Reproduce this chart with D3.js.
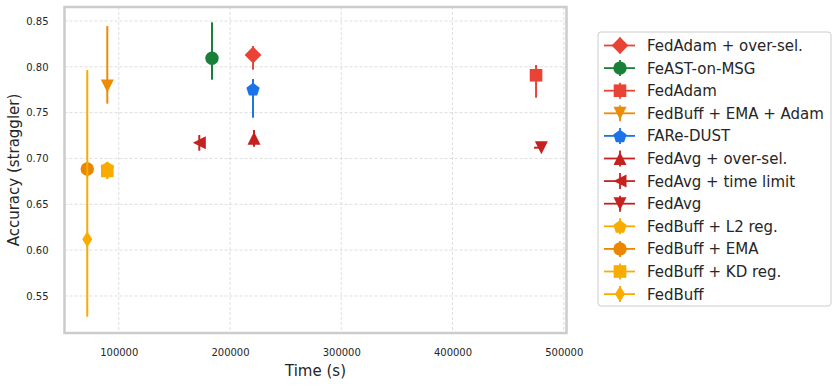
<!DOCTYPE html>
<html>
<head>
<meta charset="utf-8">
<script src="https://cdn.jsdelivr.net/npm/d3@7"></script>
<style>
  body { margin: 0; background: #fff; }
  text { font-family: "DejaVu Sans", sans-serif; fill: #262626; }
</style>
</head>
<body>
<div id="chart-root"></div>
<script>
// series, in plot order (same as legend order)
var names   = ["FedAdam + over-sel.", "FeAST-on-MSG", "FedAdam", "FedBuff + EMA + Adam", "FARe-DUST",
               "FedAvg + over-sel.", "FedAvg + time limit", "FedAvg", "FedBuff + L2 reg.", "FedBuff + EMA",
               "FedBuff + KD reg.", "FedBuff"];
var colors  = ["#ea4335", "#188038", "#ea4335", "#ec8b06", "#1a73e8",
               "#c5221f", "#c5221f", "#c5221f", "#f9ab00", "#ea8600",
               "#f9ab00", "#f9ab00"];
var shapes  = ["D", "o", "s", "v", "p", "^", "<", "v", "p", "o", "s", "d"];
var times   = [220700, 183800, 475100, 89700, 220700, 221600, 172400, 479900, 89700, 71700, 89700, 71700];
var acc     = [0.8129, 0.8093, 0.7908, 0.779, 0.7758, 0.722, 0.7172, 0.7118, 0.690, 0.6886, 0.6864, 0.6119];
var accLow  = [0.7969, 0.786, 0.7663, 0.7598, 0.7445, 0.7129, 0.7085, 0.7100, 0.6776, 0.6800, 0.6776, 0.5274];
var accHigh = [0.8227, 0.8486, 0.802, 0.8445, 0.7867, 0.7311, 0.7256, 0.7136, 0.695, 0.6960, 0.6950, 0.7965];
var timeLow = [null, null, null, null, null, null, null, 473300, null, null, null, null];
var timeHigh= [null, null, null, null, null, null, null, 482000, null, null, null, null];

var xTicks = [100000, 200000, 300000, 400000, 500000];
var yTicks = [0.55, 0.60, 0.65, 0.70, 0.75, 0.80, 0.85];

var W = 837, H = 385;
var box = { left: 64.5, right: 566.5, top: 7, bottom: 333 };

var svg = d3.select("#chart-root").append("svg")
    .attr("width", W).attr("height", H);

var x = d3.scaleLinear().domain([51236, 502472]).range([box.left, box.right]);
var y = d3.scaleLinear().domain([0.5096, 0.8653]).range([box.bottom, box.top]);

// marker path around (0,0)
function marker(s) {
  var p;
  switch (s) {
    case "o": return d3.symbol(d3.symbolCircle, Math.PI * 6.7 * 6.7)();
    case "s": p = [[-6.3,-6.3],[6.3,-6.3],[6.3,6.3],[-6.3,6.3]]; break;
    case "D": p = [[0,-8.4],[8.4,0],[0,8.4],[-8.4,0]]; break;
    case "d": p = [[0,-8],[5,0],[0,8],[-5,0]]; break;
    case "^": p = [[0,-6.5],[6.5,6.5],[-6.5,6.5]]; break;
    case "v": p = [[0,6.5],[6.5,-6.5],[-6.5,-6.5]]; break;
    case "<": p = [[-6.5,0],[6.5,-6.5],[6.5,6.5]]; break;
    case "p":
      p = d3.range(5).map(function (i) {
        var a = -Math.PI / 2 + i * 2 * Math.PI / 5;
        return [7 * Math.cos(a), 7 * Math.sin(a) + 0.8];
      });
      break;
  }
  return "M" + p.join("L") + "Z";
}

// grid
var grid = svg.append("g").attr("stroke", "#d5d5d5").attr("stroke-width", 0.8)
    .attr("stroke-dasharray", "3,2");
grid.selectAll(".gx").data(xTicks).enter().append("line")
    .attr("x1", function (d) { return x(d); }).attr("x2", function (d) { return x(d); })
    .attr("y1", box.top).attr("y2", box.bottom);
grid.selectAll(".gy").data(yTicks).enter().append("line")
    .attr("y1", function (d) { return y(d); }).attr("y2", function (d) { return y(d); })
    .attr("x1", box.left).attr("x2", box.right);

// axes (labels only, seaborn style without tick marks)
var xAxis = svg.append("g")
    .attr("transform", "translate(0," + (box.bottom + 13) + ")")
    .call(d3.axisBottom(x).tickValues(xTicks).tickSize(0).tickPadding(3).tickFormat(d3.format("d")));
var yAxis = svg.append("g")
    .attr("transform", "translate(" + (box.left - 14) + ",0)")
    .call(d3.axisLeft(y).tickValues(yTicks).tickSize(0).tickPadding(2).tickFormat(d3.format(".2f")));
[xAxis, yAxis].forEach(function (a) {
  a.select(".domain").remove();
  a.selectAll("text").style("font-family", "DejaVu Sans").style("font-size", "10px").attr("fill", "#262626");
});

svg.append("text").attr("x", (box.left + box.right) / 2).attr("y", 376)
    .attr("text-anchor", "middle").style("font-size", "15px").text("Time (s)");
svg.append("text").attr("transform", "translate(19," + ((box.top + box.bottom) / 2) + ") rotate(-90)")
    .attr("text-anchor", "middle").style("font-size", "15px").text("Accuracy (straggler)");

// points with error bars
var idx = d3.range(names.length);
var pts = svg.append("g").selectAll("g").data(idx).enter().append("g");
pts.append("line")
    .attr("x1", function (i) { return x(times[i]); }).attr("x2", function (i) { return x(times[i]); })
    .attr("y1", function (i) { return y(accLow[i]); }).attr("y2", function (i) { return y(accHigh[i]); })
    .attr("stroke", function (i) { return colors[i]; }).attr("stroke-width", 2);
pts.filter(function (i) { return timeLow[i] != null; }).append("line")
    .attr("x1", function (i) { return x(timeLow[i]); }).attr("x2", function (i) { return x(timeHigh[i]); })
    .attr("y1", function (i) { return y(acc[i]); }).attr("y2", function (i) { return y(acc[i]); })
    .attr("stroke", function (i) { return colors[i]; }).attr("stroke-width", 2);
pts.append("path")
    .attr("transform", function (i) { return "translate(" + x(times[i]) + "," + y(acc[i]) + ")"; })
    .attr("d", function (i) { return marker(shapes[i]); })
    .attr("fill", function (i) { return colors[i]; });

// frame
svg.append("rect").attr("x", box.left).attr("y", box.top)
    .attr("width", box.right - box.left).attr("height", box.bottom - box.top)
    .attr("fill", "none").attr("stroke", "#cccccc").attr("stroke-width", 2.5);

// legend
var lg = svg.append("g").attr("transform", "translate(598,32)");
lg.append("rect").attr("width", 233).attr("height", 274).attr("rx", 3)
    .attr("fill", "#fff").attr("stroke", "#cccccc").attr("stroke-width", 1);
var rows = lg.selectAll(".row").data(idx).enter().append("g")
    .attr("transform", function (i) { return "translate(0," + (13.5 + i * 22.6) + ")"; });
rows.append("line").attr("x1", 6).attr("x2", 37).attr("y1", 0).attr("y2", 0)
    .attr("stroke", function (i) { return colors[i]; }).attr("stroke-width", 1.8);
rows.append("line").attr("x1", 22).attr("x2", 22).attr("y1", -8).attr("y2", 8)
    .attr("stroke", function (i) { return colors[i]; }).attr("stroke-width", 1.8);
rows.append("path").attr("transform", "translate(22,0)")
    .attr("d", function (i) { return marker(shapes[i]); })
    .attr("fill", function (i) { return colors[i]; });
rows.append("text").attr("x", 49).attr("y", 5.5).style("font-size", "15px")
    .text(function (i) { return names[i]; });
</script>
</body>
</html>
